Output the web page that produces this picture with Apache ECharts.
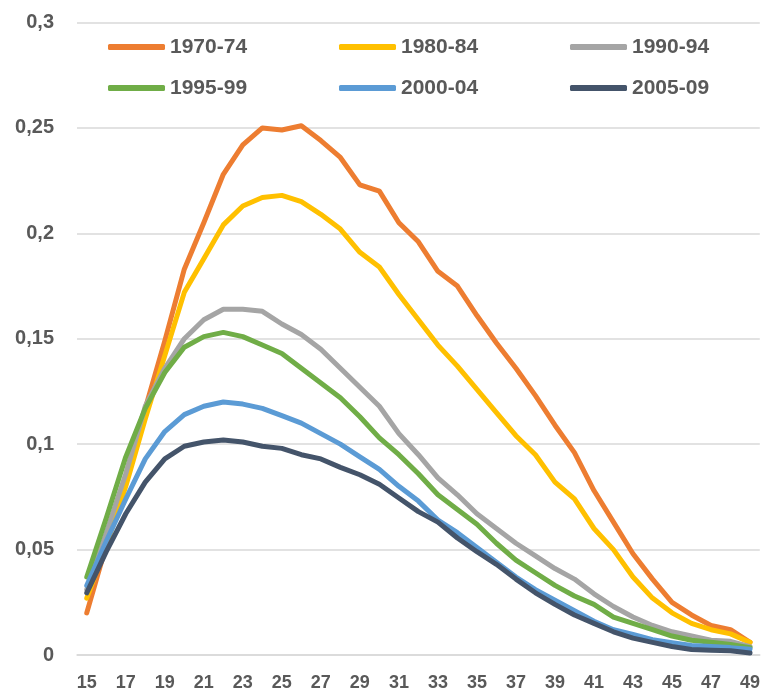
<!DOCTYPE html>
<html>
<head>
<meta charset="utf-8">
<script src="https://cdn.jsdelivr.net/npm/echarts@6/dist/echarts.min.js"></script>
<style>
  html, body { margin: 0; padding: 0; background: #fff; }
  .com-echarts { width: 763px; height: 695px; }
</style>
</head>
<body>
<div class="com-echarts" id="chart_ref"></div>
<script>
// 年龄
const ages = ['15', '16', '17', '18', '19', '20', '21', '22', '23', '24', '25', '26', '27', '28', '29', '30', '31', '32',
  '33', '34', '35', '36', '37', '38', '39', '40', '41', '42', '43', '44', '45', '46', '47', '48', '49']

const s1970 = [0.020, 0.052, 0.085, 0.117, 0.149, 0.183, 0.205, 0.228, 0.242, 0.250, 0.249, 0.251, 0.244, 0.236, 0.223, 0.220, 0.205, 0.196,
  0.182, 0.175, 0.161, 0.148, 0.136, 0.123, 0.109, 0.096, 0.078, 0.063, 0.048, 0.036, 0.025, 0.019, 0.014, 0.012, 0.006]
const s1980 = [0.027, 0.052, 0.080, 0.112, 0.142, 0.172, 0.188, 0.204, 0.213, 0.217, 0.218, 0.215, 0.209, 0.202, 0.191, 0.184, 0.171, 0.159,
  0.147, 0.137, 0.126, 0.115, 0.104, 0.095, 0.082, 0.074, 0.060, 0.050, 0.037, 0.027, 0.020, 0.015, 0.012, 0.010, 0.006]
const s1990 = [0.031, 0.058, 0.086, 0.118, 0.136, 0.150, 0.159, 0.164, 0.164, 0.163, 0.157, 0.152, 0.145, 0.136, 0.127, 0.118, 0.105, 0.095,
  0.084, 0.076, 0.067, 0.060, 0.053, 0.047, 0.041, 0.036, 0.029, 0.023, 0.018, 0.014, 0.011, 0.009, 0.007, 0.0065, 0.004]
const s1995 = [0.037, 0.065, 0.094, 0.117, 0.134, 0.146, 0.151, 0.153, 0.151, 0.147, 0.143, 0.136, 0.129, 0.122, 0.113, 0.103, 0.095, 0.086,
  0.076, 0.069, 0.062, 0.053, 0.045, 0.039, 0.033, 0.028, 0.024, 0.018, 0.015, 0.012, 0.009, 0.007, 0.006, 0.005, 0.0035]
const s2000 = [0.033, 0.054, 0.074, 0.093, 0.106, 0.114, 0.118, 0.120, 0.119, 0.117, 0.1135, 0.110, 0.105, 0.100, 0.094, 0.088, 0.080, 0.073,
  0.064, 0.058, 0.051, 0.044, 0.037, 0.031, 0.026, 0.021, 0.016, 0.012, 0.0097, 0.0073, 0.0058, 0.0045, 0.004, 0.0035, 0.0027]
const s2005 = [0.0295, 0.049, 0.067, 0.082, 0.093, 0.099, 0.101, 0.102, 0.101, 0.099, 0.098, 0.095, 0.093, 0.089, 0.0855, 0.081, 0.0745, 0.068,
  0.063, 0.0555, 0.049, 0.043, 0.036, 0.0295, 0.024, 0.019, 0.015, 0.011, 0.008, 0.006, 0.004, 0.0026, 0.0023, 0.002, 0.001]

const seriesNames = ['1970-74', '1980-84', '1990-94', '1995-99', '2000-04', '2005-09']
const seriesData = [s1970, s1980, s1990, s1995, s2000, s2005]
const seriesColors = ['#ED7D31', '#FFC000', '#A5A5A5', '#70AD47', '#5B9BD5', '#44546A']

const fontFam = "'Liberation Sans', Arial, sans-serif"
const txtColor = '#595959'

const chartIn = echarts.init(document.getElementById('chart_ref'))

// 图例位置：三列两行
const legendLeft = [103, 334, 565]
const legendTop = [31, 72]
const legends = seriesNames.map((name, i) => {
  return {
    data: [name],
    left: legendLeft[i % 3],
    top: legendTop[Math.floor(i / 3)],
    icon: 'roundRect',
    itemWidth: 57,
    itemHeight: 6,
    textStyle: {
      fontFamily: fontFam,
      fontWeight: 'bold',
      fontSize: 21,
      lineHeight: 22,
      color: txtColor
    }
  }
})

const initoptions = {
  animation: false,
  color: seriesColors,
  legend: legends,
  grid: {
    left: 77,
    right: 0,
    top: 22.5,
    bottom: 40,
    containLabel: false
  },
  xAxis: {
    type: 'category',
    data: ages,
    boundaryGap: true,
    axisLine: { lineStyle: { color: '#D9D9D9', width: 1.5 } },
    axisTick: {
      alignWithLabel: true,
      interval: 0,
      inside: true,
      length: 5,
      lineStyle: { color: '#D9D9D9', width: 1.5 }
    },
    axisLabel: {
      interval: 1,
      margin: 19,
      fontFamily: fontFam,
      fontWeight: 'bold',
      fontSize: 18,
      color: txtColor
    }
  },
  yAxis: {
    type: 'value',
    min: 0,
    max: 0.3,
    interval: 0.05,
    axisLine: { show: false },
    axisTick: { show: false },
    splitLine: { lineStyle: { color: '#D9D9D9', width: 1.5 } },
    axisLabel: {
      margin: 23,
      fontFamily: fontFam,
      fontWeight: 'bold',
      fontSize: 20,
      color: txtColor,
      formatter: v => String(+v.toFixed(2)).replace('.', ',')
    }
  },
  series: seriesNames.map((name, i) => {
    return {
      name: name,
      type: 'line',
      data: seriesData[i],
      showSymbol: false,
      symbol: 'none',
      lineStyle: { width: 5, cap: 'round', join: 'round' }
    }
  })
}
chartIn.setOption(initoptions)
</script>
</body>
</html>
